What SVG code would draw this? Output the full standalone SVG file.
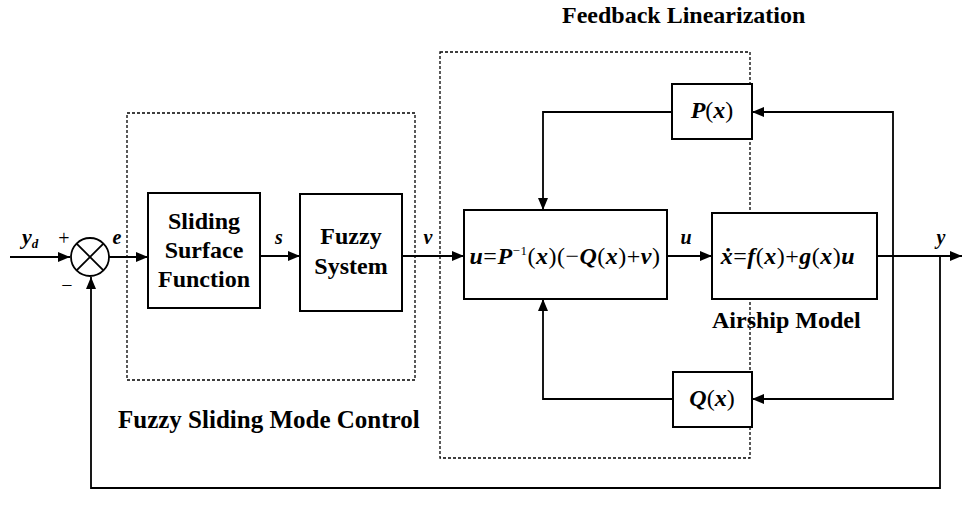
<svg xmlns="http://www.w3.org/2000/svg" width="968" height="517" viewBox="0 0 968 517">
<style>
.box{fill:#fff;stroke:#000;stroke-width:2}
.dash{fill:none;stroke:#000;stroke-width:1.3;stroke-dasharray:3,2}
.ln{fill:none;stroke:#000;stroke-width:1.8}
text{font-family:'Liberation Serif','Times New Roman','DejaVu Serif',serif}
.t{font-weight:bold;fill:#000}
.m{font-weight:bold;font-style:italic;fill:#000}
.r{font-style:normal;font-weight:normal}
</style>
<defs>
<marker id="a" viewBox="0 0 12 10" refX="12" refY="5" markerWidth="12" markerHeight="10" markerUnits="userSpaceOnUse" orient="auto">
<path d="M0,0 L12,5 L0,10 Z" fill="#000"/>
</marker>
</defs>
<rect class="dash" x="127" y="113" width="288" height="267"/>
<rect class="dash" x="440" y="52" width="310" height="406"/>
<g id="connectors">
<line class="ln" x1="10" y1="257" x2="70" y2="257" marker-end="url(#a)"/>
<line class="ln" x1="109" y1="257" x2="148" y2="257" marker-end="url(#a)"/>
<line class="ln" x1="260" y1="256" x2="300" y2="256" marker-end="url(#a)"/>
<line class="ln" x1="402" y1="256" x2="464" y2="256" marker-end="url(#a)"/>
<line class="ln" x1="667" y1="256" x2="712" y2="256" marker-end="url(#a)"/>
<line class="ln" x1="877" y1="256" x2="962" y2="256" marker-end="url(#a)"/>
<polyline class="ln" points="893,256 893,112 752,112" marker-end="url(#a)"/>
<polyline class="ln" points="893,256 893,399 752,399" marker-end="url(#a)"/>
<polyline class="ln" points="672,112 543,112 543,210" marker-end="url(#a)"/>
<polyline class="ln" points="673,399 543,399 543,299" marker-end="url(#a)"/>
<polyline class="ln" points="940,256 940,488 91,488 91,277" marker-end="url(#a)"/>
</g>
<g id="sum">
<circle cx="90" cy="257" r="19" fill="#fff" stroke="#000" stroke-width="1.8"/>
<line class="ln" x1="76.6" y1="243.6" x2="103.4" y2="270.4"/>
<line class="ln" x1="103.4" y1="243.6" x2="76.6" y2="270.4"/>
<text class="t r" x="64" y="245" font-size="20" text-anchor="middle">+</text>
<text class="t r" x="67" y="292" font-size="20" text-anchor="middle">−</text>
</g>
<g id="sliding">
<rect class="box" x="148" y="193" width="112" height="115"/>
<text class="t" x="204" y="229" font-size="24" text-anchor="middle">Sliding</text>
<text class="t" x="204" y="258" font-size="24" text-anchor="middle">Surface</text>
<text class="t" x="204" y="287" font-size="24" text-anchor="middle">Function</text>
</g>
<g id="fuzzy">
<rect class="box" x="300" y="194" width="102" height="117"/>
<text class="t" x="351" y="244" font-size="24" text-anchor="middle">Fuzzy</text>
<text class="t" x="351" y="274" font-size="24" text-anchor="middle">System</text>
</g>
<g id="control">
<rect class="box" x="464" y="210" width="203" height="89"/>
<text class="m" x="565" y="264" font-size="24" letter-spacing="0.5" text-anchor="middle">u<tspan class="r">=</tspan>P<tspan font-size="13" dy="-9" class="r">−1</tspan><tspan class="r" dy="9">(</tspan>x<tspan class="r">)(−</tspan>Q<tspan class="r">(</tspan>x<tspan class="r">)+</tspan>v<tspan class="r">)</tspan></text>
</g>
<g id="airship">
<rect class="box" x="712" y="213" width="165" height="86"/>
<text class="m" x="788" y="264" font-size="24" letter-spacing="0.5" text-anchor="middle">ẋ<tspan class="r">=</tspan>f<tspan class="r">(</tspan>x<tspan class="r">)+</tspan>g<tspan class="r">(</tspan>x<tspan class="r">)</tspan>u</text>
<text class="t" x="712" y="328" font-size="24">Airship Model</text>
</g>
<g id="P">
<rect class="box" x="672" y="84" width="80" height="55"/>
<text class="m" x="712" y="118" font-size="24" text-anchor="middle">P<tspan class="r">(</tspan>x<tspan class="r">)</tspan></text>
</g>
<g id="Q">
<rect class="box" x="673" y="372" width="79" height="55"/>
<text class="m" x="712" y="406" font-size="24" text-anchor="middle">Q<tspan class="r">(</tspan>x<tspan class="r">)</tspan></text>
</g>
<g id="labels">
<text class="m" x="22" y="244" font-size="22">y<tspan font-size="13" dy="4">d</tspan></text>
<text class="m" x="117" y="244" font-size="20" text-anchor="middle">e</text>
<text class="m" x="279" y="244" font-size="20" text-anchor="middle">s</text>
<text class="m" x="428" y="244" font-size="20" text-anchor="middle">v</text>
<text class="m" x="686" y="244" font-size="20" text-anchor="middle">u</text>
<text class="m" x="941" y="244" font-size="20" text-anchor="middle">y</text>
<text class="t" x="562" y="23" font-size="24">Feedback Linearization</text>
<text class="t" x="118" y="428" font-size="25">Fuzzy Sliding Mode Control</text>
</g>
</svg>
